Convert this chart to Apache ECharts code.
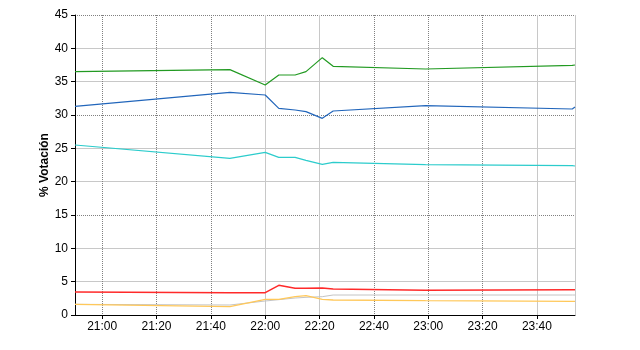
<!DOCTYPE html>
<html>
<head>
<meta charset="utf-8">
<script src="https://cdn.jsdelivr.net/npm/echarts@6/dist/echarts.min.js"></script>
<style>
html,body{margin:0;padding:0;background:#fff;}
#chart{width:640px;height:350px;}
</style>
</head>
<body>
<div id="chart"></div>
<script>
var times = ['20:50','21:47','22:00','22:05','22:11','22:15','22:21','22:25','22:59','23:53','23:54'];
var green  = [36.5, 36.8, 34.5, 36.0, 36.0, 36.5, 38.6, 37.3, 36.9, 37.45, 37.5];
var blue   = [31.3, 33.4, 33.0, 31.0, 30.75, 30.5, 29.5, 30.6, 31.4, 30.9, 31.2];
var cyan   = [25.5, 23.5, 24.4, 23.65, 23.65, 23.2, 22.6, 22.9, 22.55, 22.4, 22.35];
var red    = [3.45, 3.35, 3.35, 4.45, 4.0, 4.0, 4.05, 3.9, 3.7, 3.8, 3.8];
var orange = [1.6, 1.25, 2.35, 2.35, 2.75, 2.9, 2.35, 2.25, 2.15, 2.05, 2.05];
var gray   = [1.6, 1.5, 2.1, 2.3, 2.55, 2.65, 2.75, 3.0, 3.0, 3.0, 3.0];
var yTitle = '% Votación';
var xStart = '20:50', xEnd = '23:54';

function toMin(t){ var p = t.split(':'); return (+p[0])*60 + (+p[1]); }
function fmt(v){ var h = Math.floor(v/60), m = Math.round(v%60); return h + ':' + (m<10?'0':'') + m; }
function pairs(vals){ return vals.map(function(v,i){ return [toMin(times[i]), v]; }); }

var chart = echarts.init(document.getElementById('chart'), null, {renderer:'canvas'});
var T = 'transparent', S = '#c8c8c8', D = '#808080';
var font = 'Liberation Sans, Arial, sans-serif';

function ser(data, color, w){
  return {type:'line', data:pairs(data), showSymbol:false, symbol:'none', animation:false,
          xAxisIndex:0, yAxisIndex:0, lineStyle:{color:color, width:w}, itemStyle:{color:color}};
}
chart.setOption({
  animation:false,
  backgroundColor:'#fff',
  grid:{left:75, right:65, top:15, bottom:35, containLabel:false},
  xAxis:[{
    type:'value', min:toMin(xStart), max:toMin(xEnd), splitNumber:9,
    axisLine:{show:true, onZero:false, lineStyle:{color:'#000', width:1}},
    axisTick:{show:true, length:4, lineStyle:{color:'#000'}},
    axisLabel:{formatter:fmt, color:'#000', fontSize:12, fontFamily:font, margin:6, showMinLabel:false, showMaxLabel:false},
    splitLine:{show:true, lineStyle:{color:[T,D,D,D,T], width:1, type:'dotted'}}
  },{
    type:'value', min:toMin(xStart), max:toMin(xEnd), splitNumber:9, position:'bottom',
    axisLine:{show:false}, axisTick:{show:false}, axisLabel:{show:false},
    splitLine:{show:true, lineStyle:{color:[S,T,T,T,S], width:1, type:'solid'}}
  }],
  yAxis:[{
    type:'value', min:0, max:45, interval:5,
    name:yTitle, nameLocation:'middle', nameGap:24, nameRotate:90, nameMoveOverlap:false,
    nameTextStyle:{color:'#000', fontSize:12, fontWeight:'bold', fontFamily:font},
    axisLine:{show:true, lineStyle:{color:'#000', width:1}},
    axisTick:{show:true, length:4, lineStyle:{color:'#000'}},
    axisLabel:{color:'#000', fontSize:12, fontFamily:font, margin:7},
    splitLine:{show:true, lineStyle:{color:[T,S,S], width:1, type:'solid'}}
  },{
    type:'value', min:0, max:45, interval:15, position:'left',
    axisLine:{show:false}, axisTick:{show:false}, axisLabel:{show:false},
    splitLine:{show:true, lineStyle:{color:D, width:1, type:'dotted'}}
  }],
  series:[
    ser(gray, '#c4c4c4', 1),
    ser(orange, '#ffc85a', 1.3),
    ser(red, '#ff2a2a', 1.5),
    ser(cyan, '#2ccccc', 1.2),
    ser(blue, '#2266bb', 1.2),
    ser(green, '#229a22', 1.2)
  ]
});
</script>
</body>
</html>
